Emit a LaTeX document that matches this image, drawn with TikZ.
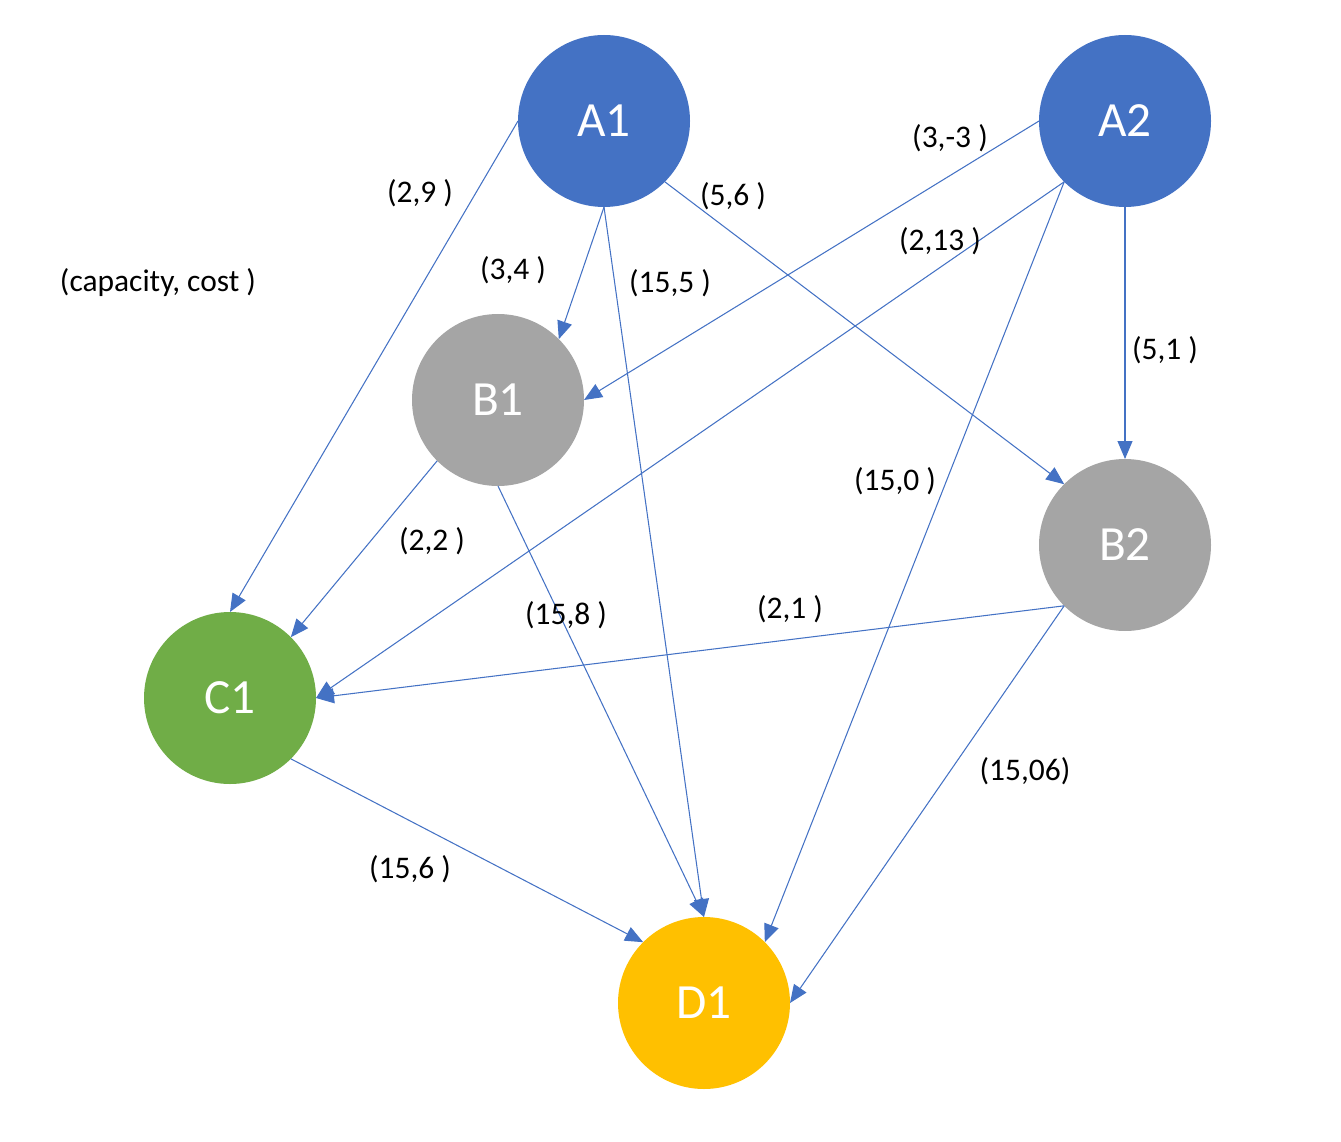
\documentclass[tikz,border=0pt]{standalone}
\usepackage{fontspec}
\setmainfont{Carlito}
\usepackage{tikz}
\usetikzlibrary{arrows.meta}
\definecolor{nodeblue}{HTML}{4472C4}
\definecolor{nodegray}{HTML}{A5A5A5}
\definecolor{nodegreen}{HTML}{70AD47}
\definecolor{nodegold}{HTML}{FFC000}
\tikzset{
	vertex/.style={circle, minimum size=3.44cm, inner sep=0pt, outer sep=0pt, text=white, font=\fontsize{28}{30}\selectfont},
	flow/.style={draw=nodeblue, line width=0.6pt, -{Triangle[length=0.36cm, width=0.3cm]}},
	tag/.style={font=\fontsize{17.9}{20}\selectfont, inner sep=1pt}
}

\begin{document}
\begin{tikzpicture}
\useasboundingbox (0,0) rectangle (26.82,-22.84);

\node[vertex, fill=nodeblue] (A1) at (12.08,-2.42) {A1};
\node[vertex, fill=nodeblue] (A2) at (22.5,-2.42) {A2};
\node[vertex, fill=nodegray] (B1) at (9.96,-8.0) {B1};
\node[vertex, fill=nodegray] (B2) at (22.5,-10.9) {B2};
\node[vertex, fill=nodegreen] (C1) at (4.6,-13.96) {C1};
\node[vertex, fill=nodegold] (D1) at (14.08,-20.06) {D1};

\foreach \s/\t in {A1.west/C1.north, A1.south/B1.north east, A1.south/D1.north, A1.south east/B2.north west,
	A2.west/B1.east, A2.south west/C1.east, A2.south west/D1.north east, A2.south/B2.north,
	B1.south west/C1.north east, B1.south/D1.north, B2.south west/C1.east, B2.south west/D1.east,
	C1.south east/D1.north west}
	\draw[flow] (\s) -- (\t);

\node[tag] (l29) at (8.4,-3.86) {(2,9 )};
\node[tag] (l34) at (10.26,-5.4) {(3,4 )};
\node[tag] (l155) at (13.4,-5.66) {(15,5 )};
\node[tag] (l56) at (14.66,-3.92) {(5,6 )};
\node[tag] (l3m3) at (19.0,-2.76) {(3,-3 )};
\node[tag] (l213) at (18.8,-4.82) {(2,13 )};
\node[tag] (l51) at (23.3,-7.0) {(5,1 )};
\node[tag] (l150) at (17.9,-9.62) {(15,0 )};
\node[tag] (l22) at (8.64,-10.82) {(2,2 )};
\node[tag] (l158) at (11.32,-12.3) {(15,8 )};
\node[tag] (l21) at (15.8,-12.18) {(2,1 )};
\node[tag] (l1506) at (20.5,-15.42) {(15,06)};
\node[tag] (l156) at (8.2,-17.38) {(15,6 )};
\node[tag] (legend) at (3.16,-5.66) {(capacity, cost )};
\end{tikzpicture}
\end{document}
